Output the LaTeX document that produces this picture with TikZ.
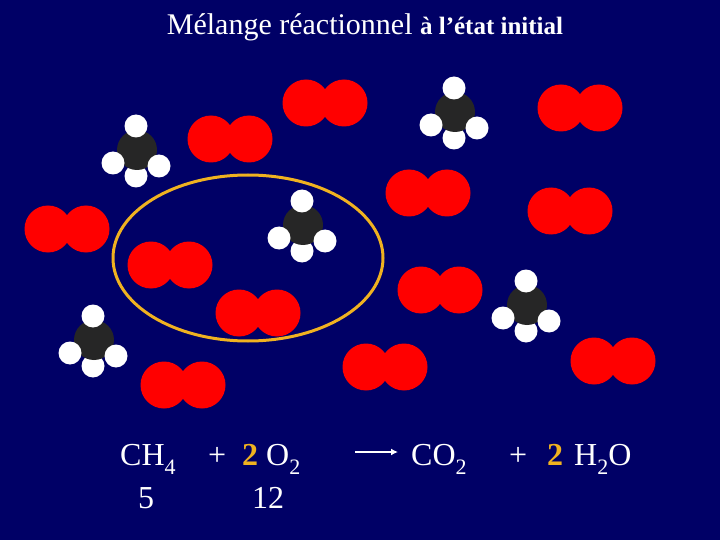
\documentclass[tikz,border=0pt]{standalone}
\usepackage{fontspec}
\setmainfont{Liberation Serif}
\usetikzlibrary{arrows.meta}
\definecolor{gold}{RGB}{240,178,32}
\begin{document}
\begin{tikzpicture}[x=1pt,y=-1pt,
  oxy/.style={circle,fill=red,minimum size=47pt,inner sep=0pt},
  carb/.style={circle,fill=black!85,minimum size=40pt,inner sep=0pt},
  hyd/.style={circle,fill=white,minimum size=23pt,inner sep=0pt},
  txt/.style={text=white,font=\fontsize{32}{34}\selectfont,anchor=base west,inner sep=0pt},
  two/.style={text=gold,font=\bfseries\fontsize{32}{34}\selectfont,anchor=base west,inner sep=0pt}]
\fill[fill={rgb,255:red,0;green,0;blue,102}] (0,0) rectangle (720,540);
\useasboundingbox (0,0) rectangle (720,540);
\node[text=white,font=\fontsize{30}{32}\selectfont,anchor=base] (title) at (365,35) {Mélange réactionnel \textbf{\fontsize{25}{27}\selectfont à l’état initial}};
\draw[line width=3pt,color=gold] (248,258) ellipse [x radius=135,y radius=83];
\foreach \i/\x/\y in {1/325/103,2/230/139,3/580/108,4/67/229,5/428/193,6/570/211,7/170/265,8/440/290,9/258/313,10/385/367,11/183/385,12/613/361}{
  \node[oxy] (o\i a) at (\x-19,\y) {};
  \node[oxy] (o\i b) at (\x+19,\y) {};
}
\foreach \i/\x/\y in {1/137/150,2/303/225,3/455/112,4/527/305,5/94/340}{
  \node[hyd] (h\i d) at (\x-1,\y+26) {};
  \node[carb] (c\i) at (\x,\y) {};
  \node[hyd] (h\i a) at (\x-1,\y-24) {};
  \node[hyd] (h\i b) at (\x-24,\y+13) {};
  \node[hyd] (h\i c) at (\x+22,\y+16) {};
}
\node[txt] (ch4) at (120,465) {CH\raisebox{-9pt}{\fontsize{22}{22}\selectfont 4}};
\node[txt] (p1) at (208,465) {+};
\node[two] (t1) at (242,465) {2};
\node[txt] (o2) at (266,465) {O\raisebox{-9pt}{\fontsize{22}{22}\selectfont 2}};
\coordinate (a1) at (355,452);
\coordinate (a2) at (398,452);
\draw[white,line width=2.5pt,-{Latex[length=7pt,width=7pt]}] (a1) -- (a2);
\node[txt] (co2) at (411,465) {CO\raisebox{-9pt}{\fontsize{22}{22}\selectfont 2}};
\node[txt] (p2) at (509,465) {+};
\node[two] (t2) at (547,465) {2};
\node[txt] (h2o) at (574,465) {H\raisebox{-9pt}{\fontsize{22}{22}\selectfont 2}O};
\node[txt] (n5) at (138,508) {5};
\node[txt] (n12) at (252,508) {12};
\end{tikzpicture}
\end{document}
